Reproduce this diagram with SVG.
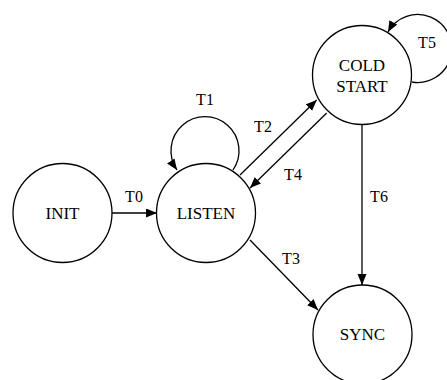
<svg xmlns="http://www.w3.org/2000/svg" width="447" height="380" viewBox="0 0 447 380">
<style>
.node circle{fill:#fff;stroke:#000;stroke-width:1.3}
.edges path{fill:none;stroke:#000;stroke-width:1.3;marker-end:url(#arr)}
text{fill:#000;text-anchor:middle;font-family:'Liberation Serif','Times New Roman',serif}
.node text{font-size:17px}
.edges text{font-size:16px}
</style>
<defs>
<marker id="arr" markerUnits="userSpaceOnUse" markerWidth="12" markerHeight="10" refX="11" refY="4.5" orient="auto">
<path d="M0,0 L11,4.5 L0,9 z" fill="#000"/>
</marker>
</defs>
<g id="connectors" class="edges">
<path d="M112,213 L157,213"/>
<text x="134" y="202">T0</text>
<path d="M233,170 A34,34 0 1 0 177,170"/>
<text x="205" y="105">T1</text>
<path d="M240,175 L316.7,100"/>
<text x="263" y="132">T2</text>
<path d="M326.7,113 L250,188"/>
<text x="293" y="180">T4</text>
<path d="M250,240 L318,310"/>
<text x="291" y="264">T3</text>
<path d="M412,82 A34,34 0 1 0 388,32"/>
<text x="427" y="48">T5</text>
<path d="M362,125 L362,285"/>
<text x="379" y="202">T6</text>
</g>
<g id="init" class="node"><circle cx="62.5" cy="213" r="49.5"/><text x="62.5" y="219">INIT</text></g>
<g id="listen" class="node"><circle cx="206" cy="213" r="49.5"/><text x="206" y="219">LISTEN</text></g>
<g id="coldstart" class="node"><circle cx="362" cy="75" r="49.5"/><text x="362" y="71">COLD</text><text x="362" y="92">START</text></g>
<g id="sync" class="node"><circle cx="362.5" cy="334.5" r="49.5"/><text x="362.5" y="340">SYNC</text></g>
</svg>
